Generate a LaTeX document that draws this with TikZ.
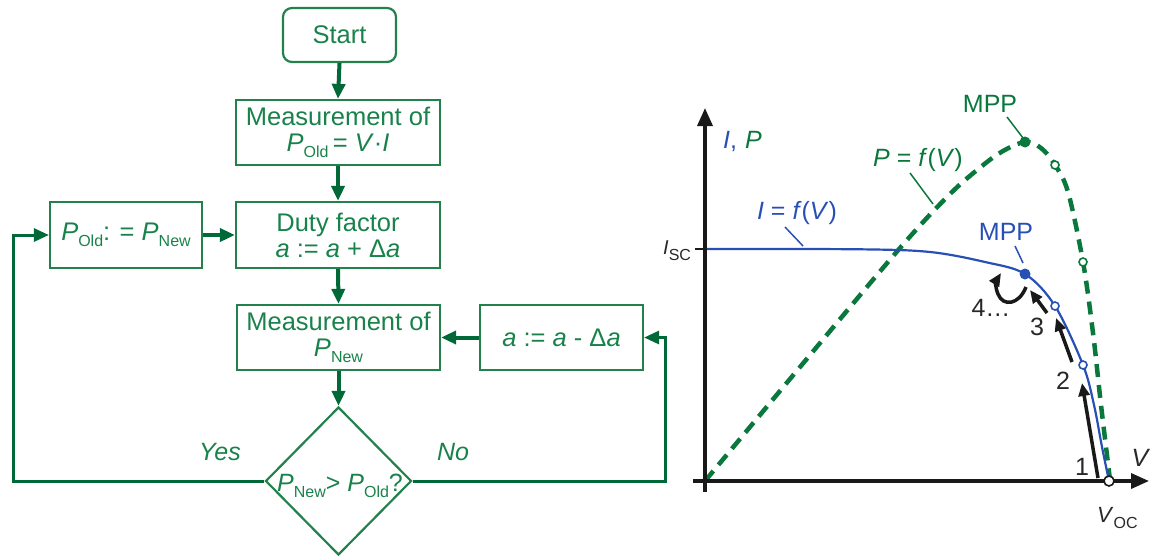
\documentclass[tikz,border=0pt]{standalone}
\usepackage{fontspec}
\setmainfont{Liberation Sans}
\usetikzlibrary{shapes.geometric,arrows.meta}
\definecolor{txtgreen}{RGB}{25,130,75}
\definecolor{boxgreen}{RGB}{35,130,75}
\definecolor{arrgreen}{RGB}{0,105,55}
\definecolor{pgreen}{RGB}{10,120,60}
\definecolor{cblue}{RGB}{40,80,180}
\definecolor{dgrey}{RGB}{40,40,40}
\newcommand{\lsub}[1]{\raisebox{-6pt}{\fontsize{16}{16}\selectfont #1}}
\newcommand{\gsub}[1]{\raisebox{-6pt}{\fontsize{16}{16}\selectfont #1}}
\tikzset{
  fbox/.style={draw=boxgreen, line width=2.2pt, text=txtgreen, align=center,
    inner sep=0pt, font=\fontsize{25.5}{26}\selectfont},
  farrow/.style={draw=arrgreen, line width=4pt, -{Triangle[length=15pt,width=13pt]}},
  floop/.style={draw=arrgreen, line width=3pt, -{Triangle[length=15pt,width=13pt]}},
  flbl/.style={text=txtgreen, font=\fontsize{25}{27}\selectfont\itshape},
  axisline/.style={draw=black!90, line width=3.5pt, -{Triangle[length=18pt,width=15pt]}},
  karrow/.style={draw=black!90, line width=3.5pt, -{Triangle[length=13pt,width=11pt]}},
  glbl/.style={font=\fontsize{25}{27}\selectfont, inner sep=0pt},
  lead/.style={line width=1.5pt},
  opencirc/.style={fill=white, line width=1.6pt},
}
\begin{document}
\begin{tikzpicture}[x=1pt,y=-1pt]
\useasboundingbox (0,0) rectangle (1150,555);
% ---------------- flowchart ----------------
\node[fbox, rounded corners=9pt, minimum width=113pt, minimum height=54pt] (start) at (339.5,35) {Start};
\node[fbox, minimum width=204pt, minimum height=65pt] (mold) at (338,132.5)
  {Measurement of\\\textit{P}\lsub{Old}\,= \textit{V}·\textit{I}};
\node[fbox, minimum width=204pt, minimum height=66pt] (duty) at (338,235)
  {Duty factor\\\textit{a} := \textit{a} + Δ\textit{a}};
\node[fbox, minimum width=152pt, minimum height=66pt] (pold) at (126,235)
  {\textit{P}\lsub{Old}: = \textit{P}\lsub{New}};
\node[fbox, minimum width=203pt, minimum height=65pt] (mnew) at (338.5,337.5)
  {Measurement of\\\textit{P}\lsub{New}};
\node[fbox, minimum width=163pt, minimum height=65pt] (adec) at (561.5,337.5)
  {\textit{a} := \textit{a} - Δ\textit{a}};
\node[diamond, draw=boxgreen, line width=2.2pt, minimum width=146pt, minimum height=148pt, inner sep=0pt] (dec) at (338.5,481) {};
\node[text=txtgreen, font=\fontsize{25}{27}\selectfont, inner sep=0pt] (dectxt) at (340,486)
  {\textit{P}\lsub{New}> \textit{P}\lsub{Old}?};
\node[flbl] (yes) at (220,452) {Yes};
\node[flbl] (no) at (453,452) {No};
\coordinate (lc) at (13,481);
\coordinate (rc) at (665,481);
\draw[farrow] (start.south) -- (mold.north);
\draw[farrow] (mold.south) -- (duty.north);
\draw[farrow] (duty.south) -- (mnew.north);
\draw[farrow] (mnew.south) -- (dec.north);
\draw[farrow] (pold.east) -- (duty.west);
\draw[farrow] (adec.west) -- (mnew.east);
\draw[floop] (dec.west) -- (lc) |- (pold.west);
\draw[floop] (dec.east) -- (rc) |- (adec.east);
% ---------------- graph ----------------
\coordinate (O) at (705,481);
\coordinate (yb) at (705,492);
\coordinate (yt) at (705,108);
\coordinate (xl) at (693,481);
\coordinate (xr) at (1149,481);
% P curve
\draw[pgreen, line width=4.5pt, dash pattern=on 13pt off 8pt]
  plot[smooth, tension=0.55] coordinates {(705,481) (800,367) (900,248) (950,194) (982,166) (1003,151) (1025,142) (1041,148) (1055,165) (1068,192) (1083,262) (1093,333) (1101,405) (1110,480)};
% I curve
\draw[cblue, line width=2.2pt]
  plot[smooth, tension=0.55] coordinates {(705,249) (860,249.3) (930,252) (985,262) (1025,274) (1055,306) (1083,365) (1094,405) (1102,447) (1109,481)};
% axes
\draw[axisline] (yb) -- (yt);
\draw[axisline] (xl) -- (xr);
\draw[black!90, line width=2pt] (695,249) -- (705,249);
% points
\fill[pgreen] (1025,142) circle (5.5pt);
\draw[pgreen, opencirc] (1055,165) circle (4pt);
\draw[pgreen, opencirc] (1083,262) circle (4pt);
\fill[cblue] (1025,274) circle (5.5pt);
\draw[cblue, opencirc] (1055,306) circle (4pt);
\draw[cblue, opencirc] (1083,365) circle (4pt);
\draw[black!90, opencirc] (1109,481) circle (5pt);
% labels
\node[glbl, anchor=base west] (ip) at (723,148) {\textcolor{cblue}{\textit{I},}\hspace{8pt}\textcolor{pgreen}{\textit{P}}};
\node[glbl, text=pgreen] (mppg) at (990,104) {MPP};
\draw[pgreen, lead] (1007,117) -- (1023,138);
\node[glbl, text=pgreen] (pf) at (918,160) {\textit{P} = \textit{f}(\textit{V})};
\draw[pgreen, lead] (910,173) -- (933,204);
\node[glbl, text=cblue] (if) at (797,213) {\textit{I} = \textit{f}(\textit{V})};
\draw[cblue, lead] (785,227) -- (803,246);
\node[glbl, text=cblue] (mppb) at (1006,232) {MPP};
\draw[cblue, lead] (1015,246) -- (1023,263);
\node[glbl, text=dgrey, anchor=base west, font=\fontsize{20}{22}\selectfont] (isc) at (663,254) {\textit{I}\gsub{SC}};
\node[glbl, text=dgrey] (vl) at (1141,458) {\textit{V}};
\node[glbl, text=dgrey, anchor=base west, font=\fontsize{22}{24}\selectfont] (voc) at (1097,522) {\textit{V}\gsub{OC}};
\node[glbl, text=dgrey] (n1) at (1082,467) {1};
\node[glbl, text=dgrey] (n2) at (1063,381) {2};
\node[glbl, text=dgrey] (n3) at (1037,327) {3};
\node[glbl, text=dgrey] (n4) at (991,308) {4\dots};
% step arrows
\draw[karrow] (1098,478) -- (1082,383);
\draw[karrow] (1072,362) -- (1056,318);
\draw[karrow] (1047,313) -- (1030,290);
\draw[karrow] (1026,287) .. controls (1019,305) and (1003,307) .. (998,294) .. controls (995,287) and (996,281) .. (1001,273);
\end{tikzpicture}
\end{document}
